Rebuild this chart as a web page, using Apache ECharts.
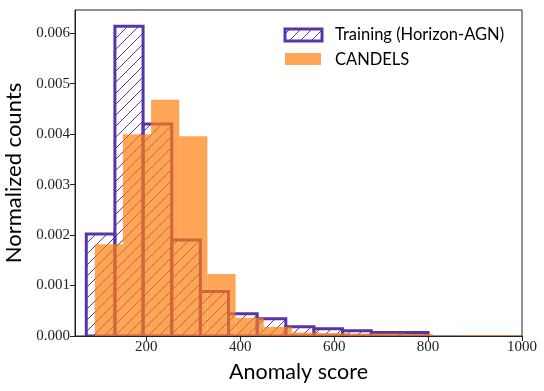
<!doctype html>
<html>
<head>
<meta charset="utf-8">
<title></title>
<script src="https://cdn.jsdelivr.net/npm/echarts@6/dist/echarts.min.js"></script>
<style>
  html, body { margin: 0; padding: 0; background: #fff; }
</style>
</head>
<body>
<div id="main" style="width: 544px;height:391px;"></div>
<script type="text/javascript">
// bin edges and normalized counts
var trainEdges = [72, 133, 193, 254, 315, 375, 436, 497, 557, 618, 679, 739, 800];
var trainCounts = [0.00202, 0.00614, 0.0042, 0.0019, 0.00088, 0.00044, 0.00034, 0.000185, 0.000145, 0.000105, 0.00007, 0.00007];
var candelsEdges = [90, 150, 210, 270, 330, 390, 450, 510, 570, 630, 690, 750, 810, 870, 930, 990];
var candelsCounts = [0.00182, 0.0040, 0.00468, 0.00396, 0.00123, 0.00036, 0.00018, 0.00007, 0.00006, 0.00005, 0.00005, 0.00004, 0, 0.00002, 0.00002];
var xTicks = [200, 400, 600, 800, 1000];
var yTicks = [0, 0.001, 0.002, 0.003, 0.004, 0.005, 0.006];

var purple = '#5634a9';
var orange = 'rgba(255,127,14,0.7)';

// hatch tile '/'
var tile = document.createElement('canvas');
tile.width = 11; tile.height = 11;
var tc = tile.getContext('2d');
tc.strokeStyle = purple;
tc.lineWidth = 1;
tc.beginPath();
tc.moveTo(-1, 12); tc.lineTo(12, -1);
tc.moveTo(-6, 6); tc.lineTo(6, -6);
tc.moveTo(5, 17); tc.lineTo(17, 5);
tc.stroke();
var hatch = { image: tile, repeat: 'repeat' };

function toBins(edges, counts) {
  var arr = [];
  for (var i = 0; i < counts.length; i++) arr.push([edges[i], edges[i + 1], counts[i]]);
  return arr;
}

function barItem(style) {
  return function (params, api) {
    var h = api.value(2);
    if (!h) return;
    var a = api.coord([api.value(0), h]);
    var b = api.coord([api.value(1), 0]);
    return {
      type: 'rect',
      shape: { x: a[0], y: a[1], width: b[0] - a[0], height: b[1] - a[1] },
      style: style
    };
  };
}

var serifFont = 'Liberation Serif';
var sansFont = 'Lato';

var myChart = echarts.init(document.getElementById('main'));
var option = {
  animation: false,
  grid: {
    left: 75, right: 22, top: 10, bottom: 55,
    show: true, borderColor: '#222', borderWidth: 1,
    containLabel: false, outerBoundsMode: 'none'
  },
  xAxis: {
    type: 'value', min: 48, max: 1000,
    name: 'Anomaly score', nameLocation: 'middle', nameGap: 25,
    nameTextStyle: { fontFamily: sansFont, fontSize: 21.5, color: '#000' },
    axisLine: { show: true, onZero: false, lineStyle: { color: '#222', width: 1 } },
    axisTick: { show: true, length: 5, customValues: xTicks, lineStyle: { color: '#222' } },
    axisLabel: {
      customValues: xTicks, margin: 4, fontFamily: serifFont, fontSize: 15, color: '#222',
      formatter: function (v) { return String(v); }
    },
    splitLine: { show: false }
  },
  yAxis: {
    type: 'value', min: 0, max: 0.00646,
    name: 'Normalized counts', nameLocation: 'middle', nameGap: 47,
    nameTextStyle: { fontFamily: sansFont, fontSize: 22, color: '#000' },
    axisLine: { show: true, lineStyle: { color: '#222', width: 1 } },
    axisTick: { show: true, length: 5, customValues: yTicks, lineStyle: { color: '#222' } },
    axisLabel: {
      customValues: yTicks, margin: 5, fontFamily: serifFont, fontSize: 15, color: '#222',
      formatter: function (v) { return v.toFixed(3); }
    },
    splitLine: { show: false }
  },
  series: [
    {
      name: 'Training (Horizon-AGN)', type: 'custom', clip: true,
      renderItem: barItem({ fill: hatch, stroke: purple, lineWidth: 3 }),
      data: toBins(trainEdges, trainCounts)
    },
    {
      name: 'CANDELS', type: 'custom', clip: true,
      renderItem: barItem({ fill: orange }),
      data: toBins(candelsEdges, candelsCounts)
    }
  ],
  graphic: [
    { type: 'rect', shape: { x: 285, y: 29, width: 37, height: 12 }, style: { fill: hatch, stroke: purple, lineWidth: 3 } },
    { type: 'text', x: 335, y: 35, style: { text: 'Training (Horizon-AGN)', fontFamily: sansFont, fontSize: 16.5, fill: '#000', verticalAlign: 'middle' } },
    { type: 'rect', shape: { x: 285, y: 53, width: 36, height: 12 }, style: { fill: orange } },
    { type: 'text', x: 335, y: 59.5, style: { text: 'CANDELS', fontFamily: sansFont, fontSize: 16.5, fill: '#000', verticalAlign: 'middle' } }
  ]
};
myChart.setOption(option);
</script>
</body>
</html>
